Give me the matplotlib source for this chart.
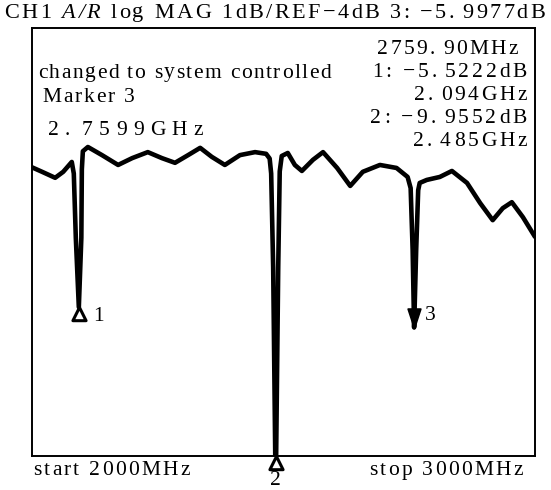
import matplotlib
matplotlib.use("Agg")
import matplotlib.pyplot as plt
from matplotlib.path import Path
from matplotlib.markers import MarkerStyle

W, H, DPI = 551, 490, 100

# Trace: frequency (MHz) and magnitude (dB)
freq_mhz = [2000, 2021, 2047, 2063, 2080, 2084, 2088, 2094, 2099, 2100,
            2102, 2112, 2140, 2172, 2200, 2231, 2259, 2285, 2311, 2335,
            2358, 2384, 2414, 2444, 2466, 2473, 2476, 2480, 2485, 2490,
            2493, 2497, 2509, 2523, 2537, 2559, 2579, 2607, 2633, 2658,
            2692, 2725, 2747, 2753, 2757, 2759.9, 2764, 2768, 2771, 2785,
            2811, 2835, 2865, 2891, 2916, 2936, 2954, 2976, 3000]
mag_db = [-2.25, -2.36, -2.50, -2.36, -2.13, -2.40, -3.90, -5.5222, -3.90, -2.30,
          -1.88, -1.78, -1.97, -2.20, -2.04, -1.90, -2.04, -2.15, -1.97, -1.80,
          -2.01, -2.20, -1.97, -1.90, -1.94, -2.05, -2.40, -4.60, -9.9552, -4.60,
          -2.35, -1.99, -1.92, -2.20, -2.34, -2.08, -1.90, -2.27, -2.69, -2.36,
          -2.20, -2.27, -2.48, -2.74, -4.19, -5.9977, -4.19, -2.79, -2.62, -2.55,
          -2.48, -2.34, -2.62, -3.09, -3.49, -3.21, -3.07, -3.42, -3.88]

# Markers
marker_ids = ["1", "2", "3"]
marker_freq_mhz = [2094, 2485, 2759.9]
marker_db = [-5.5222, -9.9552, -5.9977]

# Display scale: 1 dB/div, reference -4 dB at centre, 10 divisions
ref_db, scale_db, ndiv = -4.0, 1.0, 10
y_top = ref_db + scale_db * ndiv / 2
y_bot = ref_db - scale_db * ndiv / 2
f_start, f_stop = 2000, 3000

title_plain_1 = "CH1 "
title_italic = "A/R"
title_plain_2 = " log MAG 1dB/REF\u22124dB 3: \u22125. 9977dB"
readout_lines = ["2759. 90MHz", "1: \u22125. 5222dB", "2. 094GHz",
                 "2: \u22129. 9552dB", "2. 485GHz"]
note_lines = ["changed to system controlled", "Marker 3"]
active_freq_label = "2. 7599GHz"
start_label = "start 2000MHz"
stop_label = "stop 3000MHz"

SERIF = "Liberation Serif"
FS = 15.5

fig = plt.figure(figsize=(W / DPI, H / DPI), dpi=DPI)
fig.patch.set_facecolor("white")
renderer = fig.canvas.get_renderer()

# pixel frame of the graticule
FX0, FX1, FY0, FY1 = 31.5, 535, 28, 456


def fpos(x, y):
    return x / W, 1 - y / H


def text_width(s, size, style):
    t = fig.text(0, 0, s, fontsize=size, family=SERIF, style=style)
    w = t.get_window_extent(renderer=renderer).width
    t.remove()
    return w


def advance(ch, size, style):
    return text_width("x" + ch + "x", size, style) - text_width("xx", size, style)


def tracked(x, y, chars, size, width, ha="left"):
    """Draw text one glyph at a time, spread to span `width` pixels.
    The gap after a decimal point is left at its natural size.
    `chars` is a list of (character, style) pairs."""
    adv = [advance(c, size, st) for c, st in chars]
    natural = sum(adv)
    gets_extra = [i + 1 < len(chars) and not (chars[i][0] == "." and chars[i + 1][0] == " ")
                  for i in range(len(chars))]
    extra = (width - natural) / max(sum(gets_extra), 1)
    pos = x if ha == "left" else x - width
    for i, ((c, st), a) in enumerate(zip(chars, adv)):
        if c != " ":
            fig.text(*fpos(pos, y), c, fontsize=size, family=SERIF, style=st,
                     ha="left", va="center")
        pos += a + (extra if gets_extra[i] else 0)


def plain(s):
    return [(c, "normal") for c in s]


ax = fig.add_axes([FX0 / W, 1 - FY1 / H, (FX1 - FX0) / W, (FY1 - FY0) / H])
ax.set_xlim(f_start, f_stop)
ax.set_ylim(y_bot, y_top)
ax.set_xticks([])
ax.set_yticks([])
for s in ax.spines.values():
    s.set_linewidth(1.4)
    s.set_color("black")

ax.plot(freq_mhz, mag_db, color="black", lw=3.3, solid_joinstyle="round",
        solid_capstyle="round", clip_on=True)

# triangle markers with their tip on the marker position
up_tri = MarkerStyle(Path([(0, 0), (0.55, -1.1), (-0.55, -1.1), (0, 0)],
                          [Path.MOVETO, Path.LINETO, Path.LINETO, Path.CLOSEPOLY]))
down_tri = MarkerStyle(Path([(0, 0), (-0.36, 1.1), (0.36, 1.1), (0, 0)],
                            [Path.MOVETO, Path.LINETO, Path.LINETO, Path.CLOSEPOLY]))

for mid, mf, md in zip(marker_ids, marker_freq_mhz, marker_db):
    shown = max(md, y_bot)
    if mid == "3":
        ax.plot([mf], [shown], marker=down_tri, ms=28, mfc="black", mec="black",
                mew=1.2, clip_on=False, ls="none")
        ax.annotate(mid, (mf, shown), xytext=(8, 9), textcoords="offset points",
                    fontsize=FS, family=SERIF, va="center", ha="left")
    else:
        ax.plot([mf], [shown], marker=up_tri, ms=19, mfc="white", mec="black",
                mew=2.2, clip_on=False, ls="none")
        if mid == "2":
            ax.annotate(mid, (mf, shown), xytext=(0, -11), textcoords="offset points",
                        fontsize=FS, family=SERIF, va="top", ha="center")
        else:
            ax.annotate(mid, (mf, shown), xytext=(10, -7), textcoords="offset points",
                        fontsize=FS, family=SERIF, va="center", ha="left")

# channel header
title_chars = plain(title_plain_1) + [(c, "italic") for c in title_italic] + plain(title_plain_2)
tracked(4, 13, title_chars, 16, 541)

# marker readout block
readout_right = [518, 527, 527, 527, 527]
readout_width = [141, 155, 113, 157, 114]
for i, line in enumerate(readout_lines):
    tracked(readout_right[i], 49 + 23.25 * i, plain(line), FS, readout_width[i], ha="right")

tracked(38, 73, plain(note_lines[0]), FS, 293)
tracked(42, 98, plain(note_lines[1]), FS, 93)
tracked(48, 130, plain(active_freq_label), FS, 155)

tracked(33, 470, plain(start_label), FS, 157)
tracked(523, 470, plain(stop_label), FS, 154, ha="right")

fig.savefig("out.png", dpi=DPI)
